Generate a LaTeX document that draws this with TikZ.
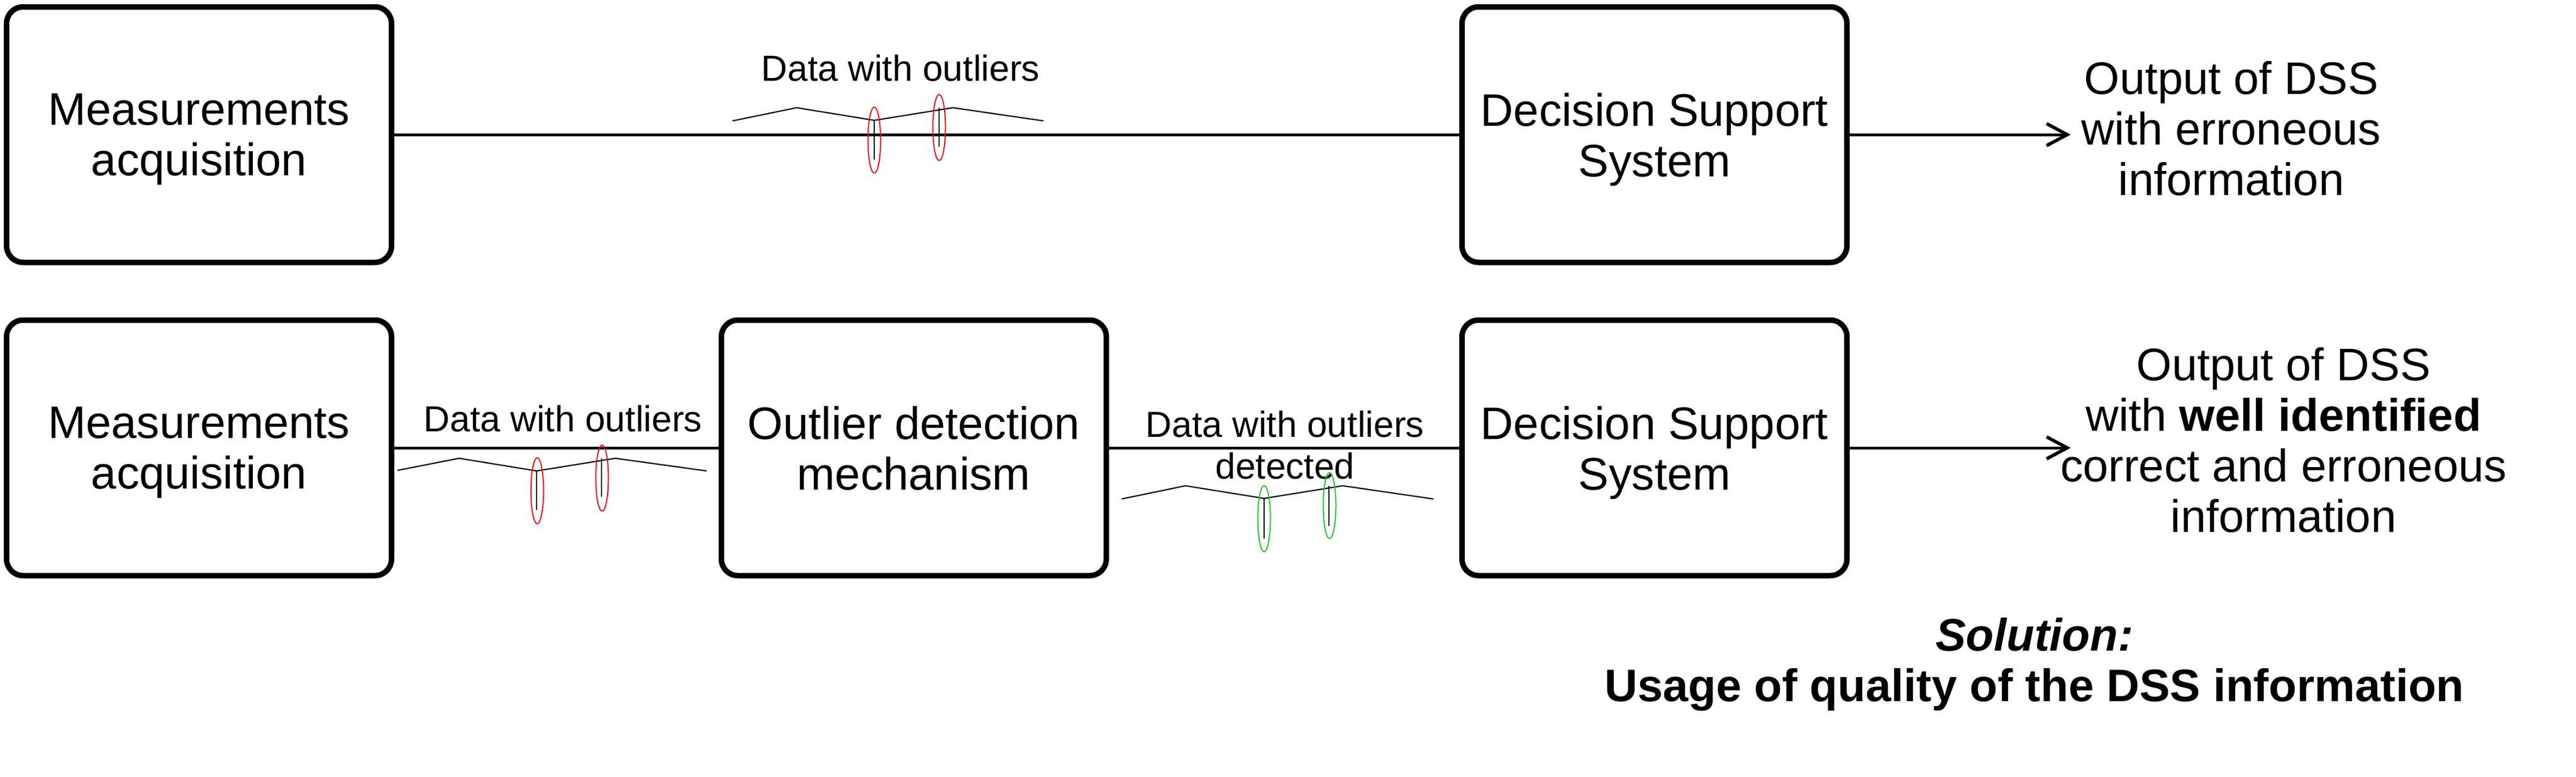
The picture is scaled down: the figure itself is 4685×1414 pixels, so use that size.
\documentclass[tikz,border=0pt]{standalone}
\usepackage{fontspec}
\setmainfont{Liberation Sans}
\usetikzlibrary{arrows.meta}

\begin{document}
\begin{tikzpicture}[x=0.2pt,y=0.2pt,yscale=-1,xscale=1,
  blk/.style={draw, line width=2pt, rounded corners=6pt, minimum width=140pt, minimum height=93pt, align=center, inner sep=0.75pt, text depth=0pt, font=\fontsize{16.6}{18.4}\selectfont},
  lbl/.style={inner sep=0.75pt, align=center, font=\fontsize{13.2}{15.3}\selectfont},
  txt/.style={inner sep=0.75pt, align=center, font=\fontsize{16.6}{18.4}\selectfont},
  wire/.style={line width=1pt},
  sig/.style={line width=0.45pt},
  ring/.style={line width=0.4pt}]
\useasboundingbox (0,0) rectangle (4685,1414);

%Rounded Rect
\node [blk] (acq1) at (362,245) {Measurements\\acquisition};
%Rounded Rect
\node [blk] (dss1) at (3009,245) {Decision Support\\System};
%Rounded Rect
\node [blk] (acq2) at (362,815) {Measurements\\acquisition};
%Rounded Rect
\node [blk] (odm) at (1662,815) {Outlier detection\\mechanism};
%Rounded Rect
\node [blk] (dss2) at (3009,815) {Decision Support\\System};

% Text Node
\node [txt] (res1) at (4058,234) {Output of DSS\\with erroneous\\information};
% Text Node
\node [txt] (res2) at (4153,801) {Output of DSS\\with \textbf{well identified}\\correct and erroneous\\information};
% Text Node
\node [txt] (sol) at (3700,1209) {\textbf{\textit{Solution:}}\\\textbf{Usage of quality of the DSS information}};

% Text Node
\node [lbl, anchor=base] (lab1) at (1638,147) {Data with outliers};
% Text Node
\node [lbl, anchor=base] (lab2) at (1024,785) {Data with outliers};
% Text Node
\node [lbl] (lab3) at (2337,810) {Data with outliers\\detected};

\coordinate (tip1) at (3766,245);
\coordinate (tip2) at (3766,815);

%Straight Lines
\draw [wire] (acq1) -- (dss1);
%Straight Lines
\draw [wire,-{Straight Barb[length=7.5pt,width=8pt,line width=1.2pt]}] (dss1) -- (tip1);
%Straight Lines
\draw [wire] (acq2) -- (odm);
%Straight Lines
\draw [wire] (odm) -- (dss2);
%Straight Lines
\draw [wire,-{Straight Barb[length=7.5pt,width=8pt,line width=1.2pt]}] (dss2) -- (tip2);

%Shape: Polyline
\draw [sig] (1332,220) -- (1449,196) -- (1590,219) -- (1733,196) -- (1898,220);
\draw [sig] (1590,219) -- (1590,290);
\draw [sig] (1708,196) -- (1708,267);
\draw [ring,color={rgb, 255:red, 255; green, 0; blue, 0 }] (1590,255) ellipse [x radius=2.3pt, y radius=12pt];
\draw [ring,color={rgb, 255:red, 255; green, 0; blue, 0 }] (1708,232) ellipse [x radius=2.3pt, y radius=12pt];

%Shape: Polyline
\draw [sig] (723,856) -- (835,834) -- (976,857) -- (1119,834) -- (1285,857);
\draw [sig] (976,857) -- (976,928);
\draw [sig] (1094,834) -- (1094,904);
\draw [ring,color={rgb, 255:red, 255; green, 0; blue, 0 }] (977,893) ellipse [x radius=2.3pt, y radius=12pt];
\draw [ring,color={rgb, 255:red, 255; green, 0; blue, 0 }] (1095,870) ellipse [x radius=2.3pt, y radius=12pt];

%Shape: Polyline
\draw [sig] (2040,908) -- (2156,884) -- (2299,907) -- (2442,884) -- (2607,908);
\draw [sig] (2299,907) -- (2299,980);
\draw [sig] (2417,884) -- (2417,957);
\draw [ring,color={rgb, 255:red, 30; green, 200; blue, 30 }] (2299,944) ellipse [x radius=2.3pt, y radius=12pt];
\draw [ring,color={rgb, 255:red, 30; green, 200; blue, 30 }] (2418,920) ellipse [x radius=2.3pt, y radius=12pt];

\end{tikzpicture}
\end{document}
